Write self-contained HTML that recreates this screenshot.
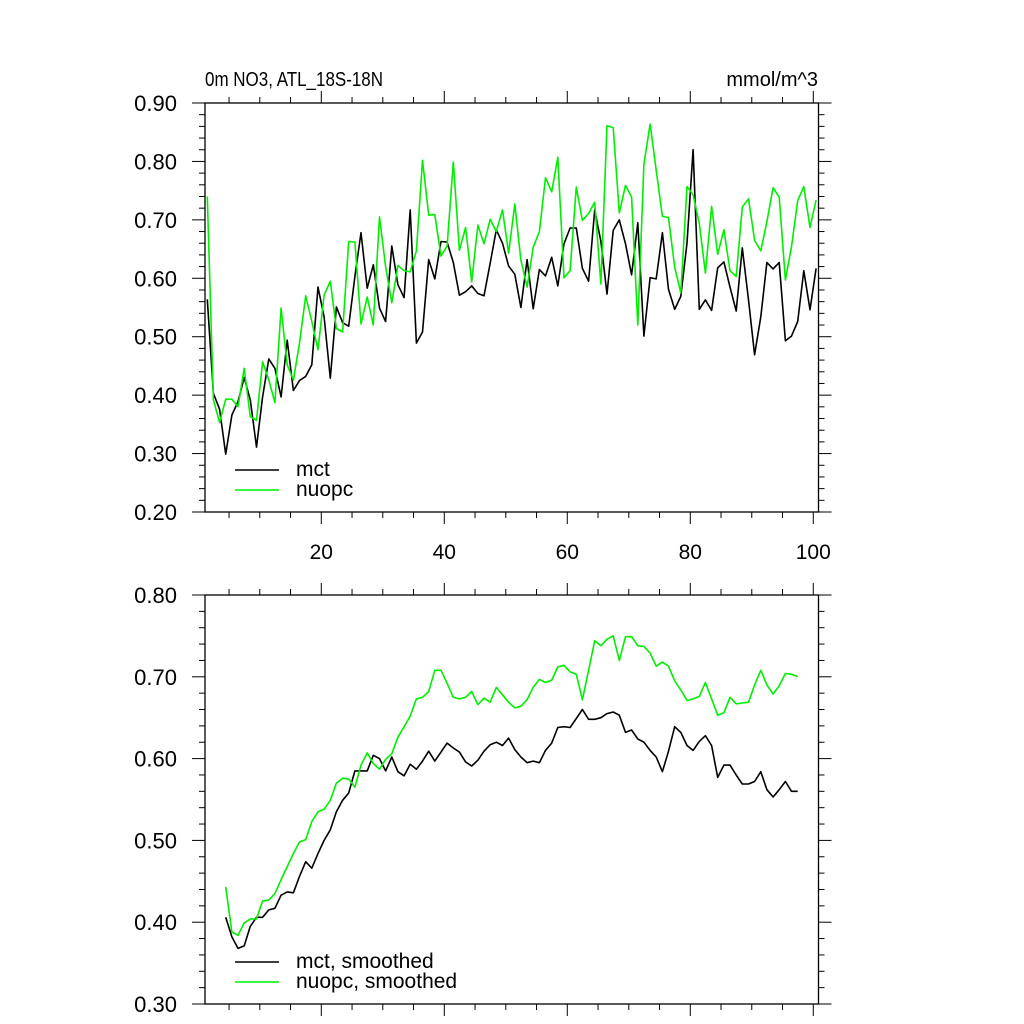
<!DOCTYPE html>
<html><head><meta charset="utf-8"><style>
html,body{margin:0;padding:0;background:#fff}
svg{display:block;font-family:"Liberation Sans",sans-serif}
</style></head><body>
<svg id="chart" width="1024" height="1024" viewBox="0 0 1024 1024" xmlns="http://www.w3.org/2000/svg"></svg>
<script>
const mctRaw=[0.564,0.403,0.376,0.299,0.366,0.389,0.430,0.392,0.311,0.397,0.462,0.446,0.397,0.494,0.408,0.425,0.432,0.452,0.585,0.534,0.429,0.551,0.524,0.518,0.603,0.678,0.583,0.623,0.549,0.526,0.655,0.589,0.567,0.717,0.489,0.508,0.632,0.599,0.663,0.662,0.627,0.571,0.577,0.587,0.574,0.570,0.626,0.683,0.660,0.621,0.607,0.550,0.632,0.548,0.615,0.604,0.636,0.587,0.659,0.686,0.686,0.617,0.595,0.717,0.663,0.573,0.682,0.700,0.659,0.606,0.695,0.501,0.601,0.599,0.678,0.581,0.547,0.569,0.660,0.820,0.547,0.563,0.545,0.618,0.628,0.585,0.544,0.652,0.563,0.469,0.534,0.627,0.616,0.627,0.493,0.501,0.526,0.613,0.546,0.617];
const nuopcRaw=[0.740,0.392,0.353,0.393,0.393,0.380,0.446,0.363,0.357,0.457,0.426,0.387,0.549,0.452,0.426,0.489,0.570,0.526,0.478,0.571,0.595,0.514,0.508,0.663,0.662,0.522,0.568,0.520,0.705,0.620,0.558,0.622,0.613,0.611,0.647,0.802,0.708,0.709,0.638,0.655,0.799,0.648,0.687,0.594,0.691,0.659,0.701,0.680,0.717,0.643,0.727,0.631,0.585,0.653,0.680,0.772,0.748,0.807,0.601,0.613,0.756,0.699,0.711,0.730,0.590,0.861,0.858,0.712,0.759,0.739,0.520,0.795,0.864,0.785,0.706,0.704,0.619,0.575,0.757,0.743,0.694,0.609,0.723,0.641,0.683,0.613,0.603,0.722,0.736,0.665,0.647,0.697,0.755,0.739,0.597,0.654,0.733,0.757,0.687,0.734];
const smoothStart=3;
const mctSmooth=[0.406,0.382,0.368,0.371,0.395,0.406,0.406,0.415,0.417,0.433,0.437,0.436,0.456,0.474,0.466,0.484,0.500,0.513,0.535,0.549,0.558,0.585,0.585,0.585,0.604,0.600,0.585,0.602,0.584,0.579,0.593,0.587,0.597,0.609,0.597,0.608,0.619,0.613,0.608,0.596,0.591,0.598,0.609,0.617,0.620,0.616,0.625,0.611,0.602,0.595,0.597,0.595,0.610,0.619,0.638,0.639,0.638,0.649,0.660,0.648,0.648,0.650,0.655,0.657,0.653,0.632,0.635,0.624,0.620,0.610,0.602,0.584,0.609,0.639,0.632,0.616,0.610,0.621,0.628,0.616,0.577,0.592,0.592,0.580,0.569,0.569,0.572,0.584,0.562,0.553,0.562,0.572,0.560,0.560];
const nuopcSmooth=[0.443,0.388,0.384,0.399,0.404,0.404,0.426,0.427,0.435,0.452,0.468,0.484,0.498,0.501,0.523,0.535,0.538,0.549,0.570,0.576,0.575,0.565,0.592,0.607,0.594,0.587,0.599,0.606,0.626,0.639,0.652,0.673,0.675,0.682,0.708,0.708,0.692,0.675,0.673,0.675,0.682,0.666,0.674,0.669,0.687,0.678,0.669,0.662,0.664,0.672,0.687,0.697,0.693,0.696,0.712,0.714,0.706,0.703,0.672,0.708,0.744,0.738,0.746,0.750,0.720,0.749,0.749,0.738,0.737,0.729,0.713,0.718,0.713,0.695,0.684,0.671,0.673,0.676,0.693,0.673,0.653,0.656,0.675,0.667,0.668,0.669,0.690,0.708,0.690,0.679,0.689,0.704,0.703,0.700];
const xTicks=[20,40,60,80,100];
const topYTicks=["0.20","0.30","0.40","0.50","0.60","0.70","0.80","0.90"];
const botYTicks=["0.30","0.40","0.50","0.60","0.70","0.80"];

const NS="http://www.w3.org/2000/svg";
const svg=document.getElementById('chart');
const L=205,R=818.5;
const X0=1.09,X1=100.85;
function xs(v){return L+(v-X0)/(X1-X0)*(R-L);}
function xOf(k){return k+1.46;}
function mk(tag,attrs,parent){const e=document.createElementNS(NS,tag);for(const a in attrs)e.setAttribute(a,attrs[a]);(parent||svg).appendChild(e);return e;}

function panel(name,T,B,ymin,ymax,yLabels,showXLabels,series,legend){
  const g=mk('g',{});
  
  
  const ys=v=>B-(v-ymin)/(ymax-ymin)*(B-T);
  const frame=mk('rect',{x:L,y:T,width:R-L,height:B-T,fill:'none',stroke:'#000','stroke-width':1.3},g);
  
  
  const nMinor=Math.round((ymax-ymin)/0.02);
  for(let i=0;i<=nMinor;i++){
    const v=ymin+i*0.02,y=ys(v),major=i%5===0,len=major?13:6;
    mk('line',{x1:L-len,y1:y,x2:L,y2:y,stroke:'#000','stroke-width':1},g);
    mk('line',{x1:R,y1:y,x2:R+len,y2:y,stroke:'#000','stroke-width':1},g);
  }
  yLabels.forEach(s=>{
    const t=mk('text',{x:177,y:ys(parseFloat(s))+8,'text-anchor':'end','font-size':22},g);
    t.textContent=s;
    
    
  });
  for(let v=5;v<=100;v+=5){
    const x=xs(v),major=v%20===0,len=major?12:6;
    mk('line',{x1:x,y1:B,x2:x,y2:B+len,stroke:'#000','stroke-width':1},g);
    mk('line',{x1:x,y1:T,x2:x,y2:T-len,stroke:'#000','stroke-width':1},g);
  }
  if(showXLabels){
    xTicks.forEach(v=>{
      const t=mk('text',{x:xs(v),y:B+47,'text-anchor':'middle','font-size':21},g);
      t.textContent=String(v);
      
      
    });
  }
  series.forEach(s=>{
    const pts=s.data.map((v,i)=>xs(xOf(i+s.start)).toFixed(1)+','+ys(v).toFixed(1)).join(' ');
    const p=mk('polyline',{points:pts,fill:'none',stroke:s.color,'stroke-width':1.6,'stroke-linejoin':'round'},g);
    
    
  });
  legend.forEach((e,i)=>{
    const y=legend.y0+i*20;
    const ln=mk('line',{x1:235,y1:y,x2:279,y2:y,stroke:e.color,'stroke-width':1.5},g);
    
    
    const t=mk('text',{x:296,y:y+6,'font-size':21},g);
    t.textContent=e.label;
    
    
  });
}
const leg1=[{label:'mct',color:'#000'},{label:'nuopc',color:'#00ee00'}];leg1.y0=470;
panel('top-panel',103,512,0.2,0.9,topYTicks,true,
  [{name:'mct-line',data:mctRaw,start:0,color:'#000'},{name:'nuopc-line',data:nuopcRaw,start:0,color:'#00ee00'}],leg1);
const leg2=[{label:'mct, smoothed',color:'#000'},{label:'nuopc, smoothed',color:'#00ee00'}];leg2.y0=962;
panel('bottom-panel',595,1004,0.3,0.8,botYTicks,false,
  [{name:'mct-smoothed-line',data:mctSmooth,start:smoothStart,color:'#000'},{name:'nuopc-smoothed-line',data:nuopcSmooth,start:smoothStart,color:'#00ee00'}],leg2);
const t1=mk('text',{x:205,y:86,'font-size':20,textLength:178,lengthAdjust:'spacingAndGlyphs'});
t1.textContent='0m NO3, ATL_18S-18N';


const t2=mk('text',{x:818,y:86,'font-size':20,'text-anchor':'end'});
t2.textContent='mmol/m^3';


</script>
</body></html>
